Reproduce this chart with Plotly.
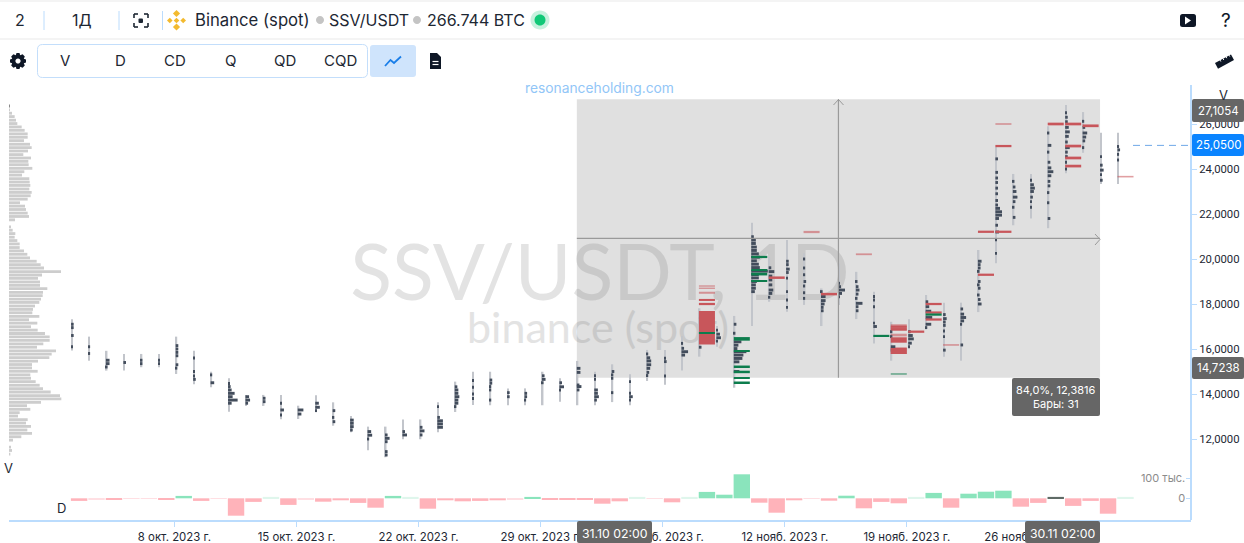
import plotly.graph_objects as go

# ---------- data ----------
# day number: 0 = 8 Oct 2023
day_numbers = list(range(-6, 55))[:61]
day_high = [17.32,16.55,15.92,15.78,15.78,15.78,16.55,15.92,14.99,14.70,13.96,13.96,13.96,13.48,13.94,13.63,13.02,12.55,12.55,12.87,12.87,13.63,14.55,14.99,14.99,14.25,14.25,14.99,14.70,15.47,14.99,15.32,14.88,15.96,15.96,16.58,17.81,17.02,17.47,21.61,20.08,20.84,20.25,18.69,19.80,19.43,18.55,17.21,17.32,18.40,18.06,18.06,20.40,24.99,23.78,23.78,25.90,26.84,26.53,25.61,25.61]
day_low = [15.93,15.48,15.04,15.04,15.19,15.19,14.89,14.43,14.30,13.21,13.47,13.47,12.88,12.89,13.19,12.59,12.30,11.50,11.19,11.99,11.99,12.30,13.20,13.51,13.50,13.50,13.50,13.50,13.66,13.50,13.50,13.64,13.50,14.58,14.41,15.04,15.66,16.10,14.28,17.02,18.10,17.66,17.96,17.02,17.96,17.33,16.25,15.48,16.10,16.89,15.66,15.48,17.64,19.81,21.50,21.80,21.37,23.81,24.72,23.33,23.33]

# profile of each day: (price, size)
day_profiles = {
 -6: [(17.10,2),(16.95,2),(16.60,2),(16.10,1)],
 -5: [(16.10,1),(15.80,1)],
 -4: [(15.50,3),(15.35,3),(15.20,1)],
 -3: [(15.40,2)],
 -2: [(15.50,1),(15.35,1)],
 -1: [(15.50,1),(15.35,1)],
 0: [(16.15,2),(16.00,2),(15.85,2),(15.70,2),(15.30,2),(15.15,1)],
 1: [(15.60,1),(15.00,1),(14.80,1),(14.65,2)],
 2: [(14.85,1),(14.50,3)],
 3: [(14.47,1),(14.33,2),(14.18,3),(14.03,6),(13.88,4),(13.73,9),(13.59,3)],
 4: [(13.88,3),(13.73,4),(13.59,2)],
 5: [(13.81,2),(13.66,2)],
 6: [(13.59,1),(13.29,3),(13.07,1)],
 7: [(13.29,5),(13.11,3)],
 8: [(13.59,3),(13.41,4),(13.26,1)],
 9: [(13.26,2),(12.96,1),(12.77,2)],
 10: [(12.84,3),(12.70,3),(12.55,3),(12.40,2)],
 11: [(12.33,3),(12.17,4),(12.00,1)],
 12: [(12.18,2),(12.03,4),(11.88,2),(11.44,2),(11.29,2)],
 13: [(12.33,2),(12.18,4)],
 14: [(12.52,2),(12.36,4),(12.18,2)],
 15: [(13.44,1),(12.96,2),(12.81,5),(12.67,5),(12.52,5)],
 16: [(14.32,2),(14.18,3),(14.03,3),(13.88,4),(13.73,3),(13.59,3),(13.44,1)],
 17: [(14.60,1),(14.30,1),(14.00,1),(13.80,1)],
 18: [(14.62,2),(14.48,2),(14.33,1),(14.18,1),(13.73,1)],
 19: [(14.06,2),(13.88,2)],
 20: [(14.03,2),(13.88,2),(13.73,1)],
 21: [(14.81,2),(14.65,3),(14.50,1)],
 22: [(14.50,2),(14.32,4),(14.18,1)],
 23: [(15.14,3),(14.96,3),(14.40,2),(14.33,4),(14.18,2)],
 24: [(14.81,1),(14.65,1),(14.18,3),(14.03,3),(13.88,4),(13.73,2)],
 25: [(15.00,2),(14.85,1),(14.70,1),(14.06,1)],
 26: [(14.55,1),(14.03,1),(13.88,3),(13.73,1)],
 27: [(15.78,1),(15.61,3),(15.47,4),(15.30,4),(15.14,3),(14.96,2),(14.82,1)],
 28: [(15.59,1),(15.44,2),(14.80,1)],
 29: [(16.25,1),(16.03,2),(15.88,6),(15.73,3)],
 30: [(16.08,2)],
 31: [(16.84,1),(16.66,3),(16.50,4),(16.35,1)],
 32: [(17.10,2),(16.70,1),(16.32,7),(16.17,4),(16.02,3),(15.88,12),(15.73,9),(15.58,8),(15.43,5),(15.00,5)],
 33: [(20.99,2),(20.84,4),(20.69,4),(20.53,5),(20.38,5),(20.23,7),(20.08,8),(19.92,5),(19.77,7),(19.62,8),(19.46,16),(19.31,7),(19.16,7),(19.00,5),(18.85,4),(18.70,4),(18.55,3)],
 34: [(19.61,2),(19.44,5),(19.24,3),(19.07,3),(18.85,3),(18.62,4),(18.47,3),(18.30,1)],
 35: [(19.90,2),(19.75,2),(19.55,3),(19.40,2),(19.15,1),(18.55,1),(18.18,1),(17.85,1)],
 36: [(20.00,1),(19.60,1),(19.30,1),(19.00,2),(18.80,1),(18.50,1),(18.25,1)],
 37: [(18.55,1),(18.33,4),(18.15,4),(18.00,3),(17.85,2),(17.70,2)],
 38: [(18.92,1),(18.77,2),(18.62,6),(18.47,3),(18.32,1)],
 39: [(19.00,1),(18.77,2),(18.62,3),(18.44,2),(18.25,1),(18.03,6),(17.88,2),(17.70,2)],
 40: [(18.33,1),(18.18,1),(17.88,1),(17.15,1),(17.00,3)],
 41: [(16.77,1),(16.55,1),(16.10,4),(15.95,2)],
 42: [(16.77,2),(16.60,4),(16.45,5),(16.26,3),(16.10,1)],
 43: [(18.10,2),(17.88,3),(17.68,5),(17.40,6),(17.10,5),(16.95,1)],
 44: [(17.53,2),(17.35,3),(17.20,2),(17.05,2),(16.80,1),(16.55,1),(15.95,2)],
 45: [(17.78,2),(17.55,3),(17.40,5),(17.25,3),(17.10,1),(16.18,2)],
 46: [(19.90,3),(19.75,2),(19.60,2),(19.45,1),(19.00,2),(18.85,1),(18.70,2),(18.40,1),(18.20,2),(18.00,3)],
 47: [(24.45,2),(23.85,2),(23.60,2),(23.40,2),(23.15,2),(22.90,2),(22.60,2),(22.40,2),(22.25,4),(22.10,6),(21.95,6),(21.80,3),(21.50,2),(21.20,3),(20.85,1),(20.25,1)],
 48: [(23.45,1),(23.20,2),(23.00,3),(22.75,4),(22.55,2),(22.30,1),(21.85,2)],
 49: [(23.50,1),(23.30,3),(23.15,4),(23.00,3),(22.75,2),(22.55,1),(22.30,1)],
 50: [(25.60,1),(25.05,3),(24.75,1),(24.30,2),(24.05,3),(23.88,5),(23.70,3),(23.45,2),(23.25,2),(22.95,1),(22.50,1),(21.80,2)],
 51: [(26.50,1),(26.30,2),(26.10,2),(25.85,3),(25.65,4),(25.45,3),(25.20,2),(24.95,4),(24.75,2),(24.55,2),(24.30,1),(24.00,1)],
 52: [(26.12,1),(25.85,2),(25.60,4),(25.42,3),(25.25,2),(24.95,1)],
 53: [(24.55,1),(24.17,2),(23.95,3),(23.75,1),(23.50,2)],
 54: [(25.00,1),(24.85,2),(24.65,1),(24.40,1)],
}

# (day, price, thickness in price units)
red_strong = [(30,18.18,.09),(30,18.00,.10),(30,16.945,1.49),(34,19.17,.11),(37,18.44,.11),
              (41,16.99,.10),(41,16.88,.10),(41,16.40,.24),(41,16.00,.05),(41,15.91,.05),(41,15.81,.05),
              (42,16.77,.10),(43,18.00,.10),(43,17.62,.10),(43,17.31,.10),(46,19.30,.10),(46,21.21,.10),
              (47,21.21,.10),(47,25.02,.10),(50,26.00,.12),(51,26.00,.12),(51,25.02,.12),(51,24.49,.12),
              (51,24.13,.12),(52,25.92,.12)]
red_light = [(30,18.80,.06),(30,18.70,.06),(30,18.50,.09),(30,17.37,.08),(36,21.20,.10),(39,20.21,.08),
             (41,16.62,.12),(41,15.93,.30),(41,16.95,.30),(44,16.18,.07),(47,26.00,.07),(54,23.66,.07)]
green_strong = [(30,16.70,.05),(32,16.45,.16),(32,15.91,.05),(32,15.21,.11),(32,14.98,.11),(32,14.70,.06),
                (32,14.50,.11),(33,20.09,.10),(33,19.51,.05),(33,19.33,.12),(33,19.02,.08),(40,16.60,.06),(43,17.53,.10)]
green_light = [(41,14.89,.08)]

# volume profile on the left
vp_prices = [26.80,26.63,26.48,26.33,26.17,26.02,25.87,25.72,25.56,25.41,25.26,25.10,24.95,24.80,24.64,24.49,24.34,24.19,24.03,23.88,23.73,23.57,23.42,23.27,23.11,22.96,22.81,22.66,22.50,22.35,22.20,22.04,21.89,21.74,21.58,21.43,21.28,21.13,20.97,20.82,20.67,20.51,20.36,20.21,20.05,19.90,19.75,19.60,19.44,19.29,19.14,18.98,18.83,18.68,18.52,18.37,18.22,18.07,17.91,17.76,17.61,17.45,17.30,17.15,16.99,16.84,16.69,16.54,16.38,16.23,16.08,15.92,15.77,15.62,15.46,15.31,15.16,15.01,14.85,14.70,14.55,14.39,14.24,14.09,13.93,13.78,13.63,13.48,13.32,13.17,13.02,12.86,12.71,12.56,12.40,12.25,12.10,11.95,11.79,11.64,11.49,11.33]
vp_volume = [6,4,12,20,24,28,41,50,59,59,48,66,71,60,46,69,61,62,73,49,42,64,65,67,64,71,68,59,36,51,54,59,63,21,3,9,14,22,20,28,35,35,48,58,66,86,98,108,159,102,90,96,96,118,105,104,99,94,81,75,73,94,63,88,69,89,111,125,125,106,87,144,131,124,90,72,72,89,67,69,83,95,105,128,156,160,99,57,67,35,30,59,54,69,58,72,40,15,3,9,12,7]

# delta per day (thousands)
delta_values = [-13,-5,-8,-3,-3,-8,12,-13,-3,-87,-18,7,-33,-5,-17,-10,-23,-47,12,7,-52,-10,-15,-13,-10,-5,7,-8,-8,-8,-27,-15,7,-2,-20,7,32,18,120,-22,-72,-10,-3,-12,13,-50,-18,-25,7,27,-47,23,33,38,-42,-23,7,-38,-13,-77,7]
pale_days = [-2,-3,-5,2,5,7,13,19,26,27,29,36,42,54]
dim_day = 50

price_ticks = [12,14,16,18,20,22,24,26]
price_labels = ["12,0000","14,0000","16,0000","18,0000","20,0000","22,0000","24,0000","26,0000"]
date_ticks = [0,7,14,21,28,35,42,49,56]
date_labels = ["8 окт. 2023 г.","15 окт. 2023 г.","22 окт. 2023 г.","29 окт. 2023 г.","5 нояб. 2023 г.",
               "12 нояб. 2023 г.","19 нояб. 2023 г.","26 нояб. 2023 г.","3 дек. 2023 г."]
range_high, range_low = 27.1054, 14.7238
range_start_day, range_end_day = 23, 53
last_price = 25.05

# ---------- layout constants ----------
W, H = 1244, 543
FONT = "Inter"
INK = "#1d2733"
BLUE = "#bbdcfd"
PX_PER_DAY = 17.44
TICK0 = 174.4          # pixel of day 0
BAR_SHIFT = 0.075      # bars start just right of the day tick
X_L, X_R = 9, 1191
day_range = [(X_L - TICK0) / PX_PER_DAY, (X_R - TICK0) / PX_PER_DAY]
PY0, PPX = 124, 22.5   # 26.00 at y=124, 22.5 px per unit
P_T, P_B = 85, 473
price_range = [26 - (P_B - PY0) / PPX, 26 - (P_T - PY0) / PPX]
D_T, D_B = 460, 520
D0 = 498.3             # zero of the delta pane
delta_range = [-(D_B - D0) * 5, (D0 - D_T) * 5]

fig = go.Figure()

# watermark in the lowest subplot (page pixel axes)
fig.add_trace(go.Scatter(x=[600], y=[281], mode="text", text=["SSV/USDT, 1D"], xaxis="x", yaxis="y",
                         textfont=dict(family="Lato", size=77, color="#e3e3e3"), hoverinfo="skip", showlegend=False))
fig.add_trace(go.Scatter(x=[598], y=[332], mode="text", text=["binance (spot)"], xaxis="x", yaxis="y",
                         textfont=dict(family="Lato", size=43, color="#e3e3e3"), hoverinfo="skip", showlegend=False))

# day range drawn as a very narrow bar, under the profile
fig.add_trace(go.Bar(orientation="h", y=[(h + l) / 2 for h, l in zip(day_high, day_low)],
                     width=[h - l for h, l in zip(day_high, day_low)],
                     x=[1.5 / PX_PER_DAY] * len(day_numbers), base=[d + BAR_SHIFT for d in day_numbers],
                     marker=dict(color="#c2c5cb", line=dict(width=0)), xaxis="x2", yaxis="y2",
                     hoverinfo="skip", showlegend=False))

def marks(rows, color, name):
    fig.add_trace(go.Bar(orientation="h", y=[r[1] for r in rows], x=[0.92] * len(rows),
                         base=[r[0] + BAR_SHIFT for r in rows], width=[r[2] for r in rows],
                         marker=dict(color=color, line=dict(width=0)), xaxis="x2", yaxis="y2",
                         hoverinfo="skip", showlegend=False, name=name))

marks(red_light, "rgba(200,80,85,0.55)", "red light")
marks(green_light, "rgba(13,125,77,0.5)", "green light")

pd_, ps_, pb_ = [], [], []
for d, rows in day_profiles.items():
    for price, size in rows:
        pd_.append(price); ps_.append((size + 0.6) / PX_PER_DAY); pb_.append(d + BAR_SHIFT)
fig.add_trace(go.Bar(orientation="h", y=pd_, x=ps_, base=pb_, width=0.13,
                     marker=dict(color="#434d5c", line=dict(width=0)),
                     xaxis="x2", yaxis="y2", hoverinfo="skip", showlegend=False))

marks(red_strong, "#c8565b", "red")
marks(green_strong, "#0d7d4d", "green")

# left volume profile
fig.add_trace(go.Bar(orientation="h", y=vp_prices, x=vp_volume, width=0.125,
                     marker=dict(color=["#8a8a8a"] + ["#cdcdcd"] * (len(vp_volume) - 1), line=dict(width=0)),
                     xaxis="x4", yaxis="y2", hoverinfo="skip", showlegend=False))

# delta pane
def delta_color(d, v):
    if d == dim_day:
        return "#5f6b66"
    if v > 0:
        return "#dff6ec" if d in pale_days else "#8ae4bc"
    return "#ffdfe3" if d in pale_days else "#ffb3ba"

fig.add_trace(go.Bar(x=[d + BAR_SHIFT + 0.46 for d in day_numbers], y=delta_values, width=0.94,
                     marker=dict(color=[delta_color(d, v) for d, v in zip(day_numbers, delta_values)],
                                 line=dict(width=0)),
                     xaxis="x3", yaxis="y3", hoverinfo="skip", showlegend=False))

hidden = dict(visible=False, fixedrange=True)
fig.update_layout(
    width=W, height=H, margin=dict(l=0, r=0, t=0, b=0), paper_bgcolor="white", plot_bgcolor="rgba(0,0,0,0)",
    showlegend=False, barmode="overlay", font=dict(family=FONT, color=INK),
    xaxis=dict(domain=[0, 1], range=[0, W], anchor="y", **hidden),
    yaxis=dict(domain=[0, 1], range=[H, 0], anchor="x", **hidden),
    xaxis2=dict(domain=[X_L / W, X_R / W], range=day_range, anchor="y2", **hidden),
    yaxis2=dict(domain=[1 - P_B / H, 1 - P_T / H], range=price_range, anchor="free", overlaying=None,
                position=X_R / W, side="right", showgrid=False, zeroline=False, showline=False, fixedrange=True,
                tickvals=price_ticks, ticktext=price_labels, ticks="outside", ticklen=5, tickcolor=BLUE,
                tickfont=dict(family="Roboto", size=11.3, color=INK)),
    xaxis3=dict(domain=[X_L / W, X_R / W], range=day_range, anchor="y3", showgrid=False, zeroline=False,
                showline=True, linecolor=BLUE, linewidth=2, fixedrange=True, tickvals=date_ticks, ticktext=date_labels,
                ticks="outside", ticklen=5, tickcolor=BLUE, tickfont=dict(family=FONT, size=11.4, color=INK)),
    yaxis3=dict(domain=[1 - D_B / H, 1 - D_T / H], range=delta_range, anchor="x3", side="right", showgrid=False,
                zeroline=False, showline=False, fixedrange=True, tickvals=[0, 100], ticktext=["0", "100 тыс."],
                ticks="inside", ticklen=5, tickcolor=BLUE, ticklabelposition="inside",
                tickfont=dict(family=FONT, size=11, color="#8c8c8c")),
    xaxis4=dict(domain=[X_L / W, X_R / W], range=[3, 3549], anchor="y2", overlaying="x2", **hidden),
)

# ---------- page furniture ----------
shapes, notes = [], []

def text(x, y, s, size=15, color=INK, anchor="center", family=FONT):
    notes.append(dict(x=x, y=y, xref="x", yref="y", text=s, showarrow=False, xanchor=anchor, yanchor="middle",
                      font=dict(family=family, size=size, color=color)))

def path(d, fill=None, line=None, w=1, layer="above"):
    shapes.append(dict(type="path", xref="x", yref="y", path=d, fillcolor=fill or "rgba(0,0,0,0)",
                       line=dict(color=line or "rgba(0,0,0,0)", width=w if line else 0), layer=layer))

def rrect(x0, y0, x1, y1, r, fill=None, line=None, w=1):
    path(f"M{x0+r},{y0} L{x1-r},{y0} Q{x1},{y0} {x1},{y0+r} L{x1},{y1-r} Q{x1},{y1} {x1-r},{y1} "
         f"L{x0+r},{y1} Q{x0},{y1} {x0},{y1-r} L{x0},{y0+r} Q{x0},{y0} {x0+r},{y0} Z", fill, line, w)

def circle(cx, cy, r, fill):
    k = 0.5523 * r
    path(f"M{cx-r},{cy} C{cx-r},{cy-k} {cx-k},{cy-r} {cx},{cy-r} C{cx+k},{cy-r} {cx+r},{cy-k} {cx+r},{cy} "
         f"C{cx+r},{cy+k} {cx+k},{cy+r} {cx},{cy+r} C{cx-k},{cy+r} {cx-r},{cy+k} {cx-r},{cy} Z", fill)

def hline(x0, x1, y, color, w=1, dash="solid"):
    shapes.append(dict(type="line", xref="x", yref="y", x0=x0, x1=x1, y0=y, y1=y,
                       line=dict(color=color, width=w, dash=dash), layer="above"))

def vline(x, y0, y1, color, w=1):
    shapes.append(dict(type="line", xref="x", yref="y", x0=x, x1=x, y0=y0, y1=y1,
                       line=dict(color=color, width=w), layer="above"))

# measured range
shapes.append(dict(type="rect", xref="x2", yref="y2", x0=range_start_day + BAR_SHIFT, x1=range_end_day + BAR_SHIFT,
                   y0=range_low, y1=range_high, fillcolor="rgba(100,100,100,0.2)", line=dict(width=0), layer="below"))
mid_day = (range_start_day + range_end_day) / 2 + BAR_SHIFT
mid_price = (range_low + range_high) / 2
shapes.append(dict(type="line", xref="x2", yref="y2", x0=range_start_day + BAR_SHIFT, x1=range_end_day + BAR_SHIFT,
                   y0=mid_price, y1=mid_price, line=dict(color="#9a9a9a", width=1.2), layer="above"))
shapes.append(dict(type="line", xref="x2", yref="y2", x0=mid_day, x1=mid_day,
                   y0=range_low, y1=range_high, line=dict(color="#9a9a9a", width=1.2), layer="above"))
path("M833.5,105 L838.5,99.5 L843.5,105", None, "#9a9a9a", 1)
path("M1095,234 L1100,239.4 L1095,245", None, "#9a9a9a", 1)
hline_y = last_price
shapes.append(dict(type="line", xref="x", yref="y2", x0=1133, x1=X_R, y0=hline_y, y1=hline_y,
                   line=dict(color="#6fa8e8", width=1, dash="7px,5px"), layer="above"))

# header
shapes.append(dict(type="rect", xref="x", yref="y", x0=0, x1=W, y0=0, y1=2, fillcolor="#f4f4f4", line=dict(width=0), layer="above"))
shapes.append(dict(type="rect", xref="x", yref="y", x0=0, x1=W, y0=38, y1=40, fillcolor="#f4f4f4", line=dict(width=0), layer="above"))
for x in (44, 119, 162.5):
    vline(x, 11, 30, BLUE)
text(20, 20, "2", 16)
text(82, 20, "1Д", 16)
for a, b, c, d in ((134, 14, 134, 18), (134, 14, 138, 14), (148, 14, 144, 14), (148, 14, 148, 18),
                   (134, 27, 134, 23), (134, 27, 138, 27), (148, 27, 144, 27), (148, 27, 148, 23)):
    path(f"M{a},{b} L{c},{d}", None, INK, 1.6)
rrect(138.5, 18.5, 143, 23, 1, INK)
# exchange logo
for cx, cy, r in ((176.5, 13.5, 3.6), (176.5, 27, 3.6), (169.8, 20.5, 2.8), (183.2, 20.5, 2.8), (176.5, 20.5, 2.8)):
    path(f"M{cx},{cy-r} L{cx+r},{cy} L{cx},{cy+r} L{cx-r},{cy} Z", "#f3ba2f")
text(193, 20, "Binance (spot)", 16.7, anchor="left")
circle(320, 20, 4, "#c4c4c4")
text(327, 20, "SSV/USDT", 16, anchor="left")
circle(417, 20, 4, "#c4c4c4")
text(425, 20, "266.744 BTC", 16, anchor="left")
circle(540, 20, 9.5, "#c6f1de")
circle(540, 20, 5.5, "#10c877")
rrect(1180, 14, 1196, 27, 2.5, "#0e1726")
path("M1185,16.5 L1191,20.5 L1185,24.5 Z", "white")
text(1226, 20, "?", 19, "#0e1726")

# toolbar
path("M16.5,53 L19.5,53 L20.2,55.2 L22.6,54.2 L24.8,56.4 L23.8,58.8 L26,59.5 L26,62.5 L23.8,63.2 L24.8,65.6 "
     "L22.6,67.8 L20.2,66.8 L19.5,69 L16.5,69 L15.8,66.8 L13.4,67.8 L11.2,65.6 L12.2,63.2 L10,62.5 L10,59.5 "
     "L12.2,58.8 L11.2,56.4 L13.4,54.2 L15.8,55.2 Z", "#0e1726")
circle(18, 61, 2.6, "white")
rrect(37.5, 44.5, 367.5, 77.5, 5, "white", "#c3defb")
for x, s in ((65, "V"), (120, "D"), (175, "CD"), (230, "Q"), (285, "QD"), (340, "CQD")):
    text(x, 60.5, s, 15)
rrect(370, 45, 416, 77, 3, "#cfe4fc")
path("M385,66 L390.5,60 L394,63 L401,56.5", None, "#1a7ee8", 1.8)
path("M430,53 L437,53 L441,57 L441,69 L430,69 Z", "#0e1726")
hline(432.5, 438.5, 61.5, "white", 1.2)
hline(432.5, 438.5, 64.5, "white", 1.2)
path("M1215,63 L1231,54.5 L1234,60 L1218,68.8 Z", "#0e1726")
for x, y in ((1220, 62.5), (1223, 61), (1226, 59.2), (1229, 57.6)):
    path(f"M{x},{y-2.5} L{x+0.8},{y-1}", None, "white", 1)

# price and date boxes
vline(X_R, P_T, 520, BLUE, 2)
rrect(1192, 99, 1244, 122, 2, "#666666")
text(1218, 110.5, "27,1054", 11.5, "white")
rrect(1192, 134, 1244, 156, 2, "#0a84ff")
text(1218, 145, "25,0500", 11.5, "white")
rrect(1192, 357, 1244, 379, 2, "#666666")
text(1218, 368, "14,7238", 11.5, "white")
rrect(1012, 378, 1100, 416, 2, "#666666")
text(1056, 390, "84,0%, 12,3816", 11, "white")
text(1056, 404, "Бары: 31", 11, "white")
rrect(577, 521, 652, 543, 2, "#666666")
text(614.5, 533, "31.10 02:00", 12.3, "white")
rrect(1025, 521, 1100, 543, 2, "#666666")
text(1062.5, 533, "30.11 02:00", 12.3, "white")

text(599.5, 88, "resonanceholding.com", 13.8, "#92c6f7")
text(1223, 95, "V", 13)
text(8, 468, "V", 13)
text(61, 508, "D", 13)

fig.update_layout(shapes=shapes, annotations=notes)
fig.write_html("out.html", config=dict(displayModeBar=False), post_script=(
    "document.documentElement.style.overflow='hidden';"
    "document.documentElement.style.height='543px';"
    "document.body.style.margin='0';document.body.style.height='543px';document.body.style.overflow='hidden';"
    "document.querySelectorAll('body>div').forEach(function(e){e.style.height='543px';e.style.overflow='hidden';});"
))
